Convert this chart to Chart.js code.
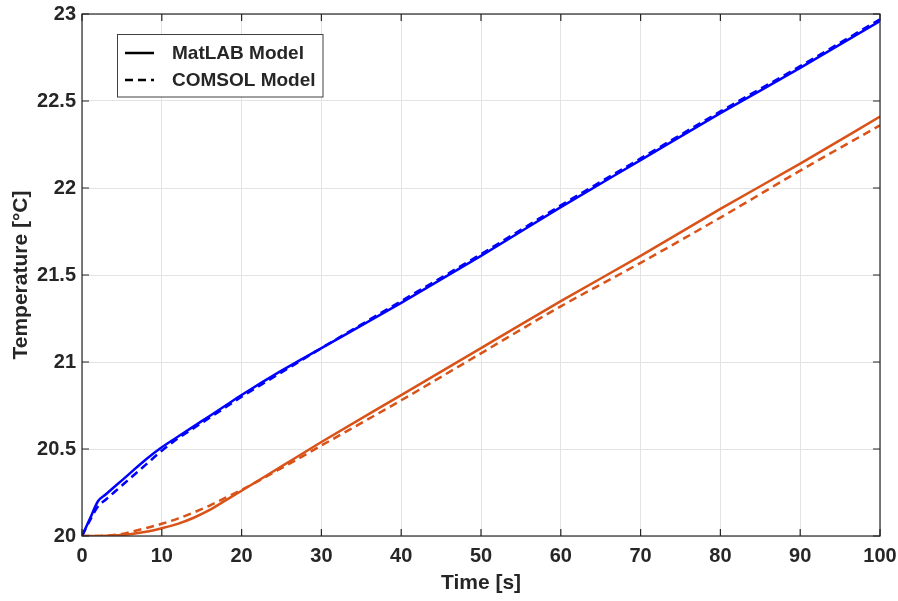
<!DOCTYPE html>
<html>
<head>
<meta charset="utf-8">
<script src="https://cdn.jsdelivr.net/npm/chart.js@4/dist/chart.umd.min.js"></script>
<style>
  html, body { margin: 0; padding: 0; background: #fff; }
  #wrap { width: 898px; height: 601px; }
</style>
</head>
<body>
<div id="wrap"><canvas id="tempChart" width="898" height="601"></canvas></div>
<script>
// time points [s]
const time = [0, 1, 2, 3, 4, 5, 6, 8, 10, 12, 14, 16, 18, 20, 25, 30, 40, 50, 60, 70, 80, 90, 100];

// blue pair
const blueMatlab = [20, 20.10, 20.20, 20.24, 20.28, 20.32, 20.36, 20.44, 20.51, 20.57, 20.63, 20.69, 20.75, 20.81, 20.95, 21.08, 21.34, 21.61, 21.89, 22.16, 22.43, 22.69, 22.96];
const blueComsol = [20, 20.09, 20.17, 20.21, 20.25, 20.29, 20.33, 20.41, 20.49, 20.56, 20.62, 20.68, 20.74, 20.80, 20.94, 21.08, 21.35, 21.62, 21.90, 22.17, 22.44, 22.70, 22.97];

// orange pair
const orangeMatlab = [20, 20, 20, 20.001, 20.003, 20.006, 20.01, 20.024, 20.045, 20.07, 20.105, 20.15, 20.205, 20.26, 20.40, 20.54, 20.81, 21.08, 21.35, 21.61, 21.88, 22.14, 22.41];
const orangeComsol = [20, 20, 20, 20.002, 20.006, 20.012, 20.022, 20.045, 20.07, 20.10, 20.135, 20.175, 20.22, 20.265, 20.39, 20.52, 20.78, 21.05, 21.32, 21.57, 21.83, 22.10, 22.36];

const xTicks = [0, 10, 20, 30, 40, 50, 60, 70, 80, 90, 100];
const yTicks = [20, 20.5, 21, 21.5, 22, 22.5, 23];
const legendLabels = ["MatLAB Model", "COMSOL Model"];

const BLUE = "#0000ff";
const ORANGE = "#d95319";
const AXIS = "#262626";
const FONT = "'Liberation Sans', Arial, Helvetica, sans-serif";

function pts(ys) {
  return time.map((t, i) => ({ x: t, y: ys[i] }));
}

function line(label, ys, color, dashed) {
  return {
    label: label,
    data: pts(ys),
    showLine: true,
    borderColor: color,
    backgroundColor: color,
    borderWidth: 2.5,
    borderDash: dashed ? [8, 5] : [],
    pointRadius: 0,
    cubicInterpolationMode: "monotone",
    fill: false,
  };
}

// box round the plot + inward ticks, MATLAB style
const boxPlugin = {
  id: "boxTicks",
  afterDatasetsDraw(chart) {
    const { ctx, chartArea: a, scales } = chart;
    ctx.save();
    ctx.strokeStyle = AXIS;
    ctx.lineWidth = 1.2;
    ctx.setLineDash([]);
    ctx.strokeRect(a.left, a.top, a.right - a.left, a.bottom - a.top);
    const len = 7;
    ctx.beginPath();
    xTicks.forEach((v) => {
      const px = scales.x.getPixelForValue(v);
      ctx.moveTo(px, a.bottom); ctx.lineTo(px, a.bottom - len);
      ctx.moveTo(px, a.top); ctx.lineTo(px, a.top + len);
    });
    yTicks.forEach((v) => {
      const py = scales.y.getPixelForValue(v);
      ctx.moveTo(a.left, py); ctx.lineTo(a.left + len, py);
      ctx.moveTo(a.right, py); ctx.lineTo(a.right - len, py);
    });
    ctx.stroke();
    ctx.restore();
  },
  afterDraw(chart) {
    // legend box in upper left
    const { ctx } = chart;
    ctx.save();
    const bx = 117.5, by = 34.5, bw = 205.5, bh = 62.5;
    ctx.fillStyle = "#fff";
    ctx.fillRect(bx, by, bw, bh);
    ctx.strokeStyle = "#404040";
    ctx.lineWidth = 1;
    ctx.strokeRect(bx, by, bw, bh);
    const rows = [53, 80];
    ctx.strokeStyle = "#000";
    ctx.lineWidth = 2.5;
    ctx.font = "bold 19px " + FONT;
    ctx.fillStyle = AXIS;
    ctx.textBaseline = "middle";
    legendLabels.forEach((txt, i) => {
      ctx.setLineDash(i === 0 ? [] : [8, 5]);
      ctx.beginPath();
      ctx.moveTo(125, rows[i]);
      ctx.lineTo(154, rows[i]);
      ctx.stroke();
      ctx.fillText(txt, 172, rows[i] + 1);
    });
    ctx.restore();
  },
};

new Chart(document.getElementById("tempChart"), {
  type: "scatter",
  data: {
    datasets: [
      line("MatLAB Model", blueMatlab, BLUE, false),
      line("COMSOL Model", blueComsol, BLUE, true),
      line("MatLAB Model", orangeMatlab, ORANGE, false),
      line("COMSOL Model", orangeComsol, ORANGE, true),
    ],
  },
  options: {
    responsive: false,
    devicePixelRatio: 1,
    animation: false,
    layout: { padding: { top: 14, right: 18, bottom: 0, left: 0 } },
    plugins: {
      legend: { display: false },
      tooltip: { enabled: false },
    },
    scales: {
      x: {
        type: "linear",
        min: 0,
        max: 100,
        afterFit: (s) => { s.height = 65; s.paddingLeft = 0; s.paddingRight = 0; },
        afterBuildTicks: (s) => { s.ticks = xTicks.map((v) => ({ value: v })); },
        ticks: {
          color: AXIS,
          padding: 8,
          maxRotation: 0,
          font: { family: FONT, size: 20, weight: "bold" },
        },
        grid: { color: "#e3e3e3", lineWidth: 1, drawTicks: false },
        border: { display: false },
        title: {
          display: true,
          text: "Time [s]",
          color: AXIS,
          padding: { top: 0, bottom: 5 },
          font: { family: FONT, size: 21, weight: "bold" },
        },
      },
      y: {
        type: "linear",
        min: 20,
        max: 23,
        afterFit: (s) => { s.width = 82; s.paddingTop = 0; s.paddingBottom = 0; },
        afterBuildTicks: (s) => { s.ticks = yTicks.map((v) => ({ value: v })); },
        ticks: {
          color: AXIS,
          padding: 6,
          callback: (v) => String(v),
          font: { family: FONT, size: 20, weight: "bold" },
        },
        grid: { color: "#e3e3e3", lineWidth: 1, drawTicks: false },
        border: { display: false },
        title: {
          display: true,
          text: "Temperature [°C]",
          color: AXIS,
          padding: { top: 9, bottom: 0 },
          font: { family: FONT, size: 21, weight: "bold" },
        },
      },
    },
  },
  plugins: [boxPlugin],
});
</script>
</body>
</html>
